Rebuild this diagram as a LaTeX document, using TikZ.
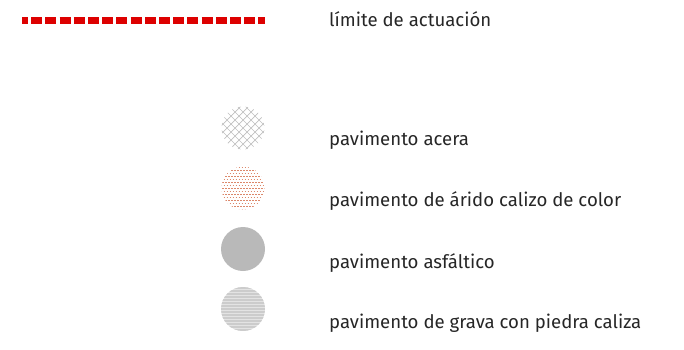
\documentclass[tikz,border=0pt]{standalone}
\usepackage{fontspec}
\setmainfont{Fira Sans}
\definecolor{limred}{HTML}{DD0000}
\definecolor{dotor}{HTML}{D0603A}
\definecolor{asf}{HTML}{B9B9B9}
\begin{document}
\begin{tikzpicture}[x=1pt,y=-1pt,
  lbl/.style={anchor=west,inner sep=0pt,font=\fontsize{18.6}{20}\selectfont,text=black!85},
  swatch/.style={circle,minimum size=44pt,inner sep=0pt}]
\useasboundingbox (0,0) rectangle (684,349);
% limit line
\coordinate (la) at (22,20);
\coordinate (lb) at (265,20);
\draw[limred,line width=7pt,dash pattern=on 11pt off 3.2pt,dash phase=5pt] (la) -- (lb);
\node[lbl] (t0) at (329,19) {límite de actuación};
% swatches
\node[swatch] (s1) at (243,128) {};
\node[swatch] (s2) at (243,188) {};
\node[swatch,fill=asf] (s3) at (243,249) {};
\node[swatch,fill=gray!22] (s4) at (243,309) {};
% crosshatch
\begin{scope}
\clip (s1.center) circle (21.5pt);
\foreach \i in {-64,-56,...,64}{
  \draw[gray!50,line width=0.7pt] ([shift={(\i-40,-40)}]s1.center) -- ([shift={(\i+40,40)}]s1.center);
  \draw[gray!50,line width=0.7pt] ([shift={(\i+40,-40)}]s1.center) -- ([shift={(\i-40,40)}]s1.center);
}
\end{scope}
% dotted orange
\begin{scope}
\clip (s2.center) circle (21.5pt);
\foreach \j [count=\k] in {-21,-18,...,22}{
  \pgfmathsetmacro\ph{mod(\k,2)*1.5}
  \draw[dotor!75,line width=0.9pt,dash pattern=on 1.5pt off 1.5pt,dash phase=\ph pt] ([shift={(-24,\j)}]s2.center) -- ([shift={(24,\j)}]s2.center);
}
\end{scope}
% gravel lines
\begin{scope}
\clip (s4.center) circle (22pt);
\foreach \j in {-22,-20.5,...,22}{
  \draw[gray!40,line width=0.6pt] ([shift={(-24,\j)}]s4.center) -- ([shift={(24,\j)}]s4.center);
}
\end{scope}
\node[lbl] (t1) at (329,140) {pavimento acera};
\node[lbl] (t2) at (329,201) {pavimento de árido calizo de color};
\node[lbl] (t3) at (329,263) {pavimento asfáltico};
\node[lbl] (t4) at (329,323) {pavimento de grava con piedra caliza};
\end{tikzpicture}
\end{document}
